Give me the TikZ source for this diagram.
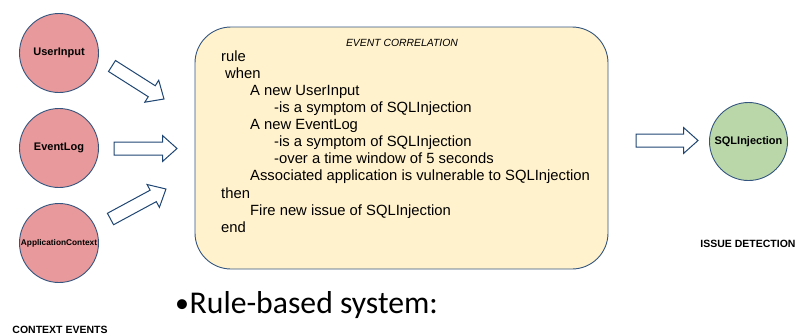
\documentclass[tikz,border=0pt]{standalone}
\usepackage{fontspec}
\setmainfont{Liberation Sans}
\newfontfamily\slidefont{Carlito}
\usetikzlibrary{calc}

\definecolor{evred}{HTML}{E8999B}
\definecolor{evgreen}{HTML}{B9D7A9}
\definecolor{corrfill}{HTML}{FFF2CC}
\definecolor{edgeblue}{HTML}{34557F}
\definecolor{arrowblue}{HTML}{1F4673}

\tikzset{
  eventnode/.style={circle, draw=edgeblue, line width=0.9pt, fill=evred,
    minimum size=79pt, inner sep=0pt, font=\bfseries\fontsize{11}{13}\selectfont},
  issuenode/.style={eventnode, fill=evgreen, minimum size=78pt},
  corrbox/.style={draw=edgeblue, line width=0.9pt, fill=corrfill,
    rounded corners=36pt, minimum width=413pt, minimum height=242pt, inner sep=0pt},
  ruletext/.style={align=left, inner sep=0pt, anchor=north west,
    font=\fontsize{14.8}{17.1}\selectfont},
  caption/.style={font=\bfseries\fontsize{10.5}{12}\selectfont, inner sep=0pt, anchor=base},
  blockarrow/.style={draw=arrowblue, line width=1pt, fill=white, line join=miter},
}

% Hollow block arrow from one named coordinate to another
\newcommand{\blockarrow}[2]{%
  \path let \p1=(#1), \p2=(#2) in \pgfextra{%
    \pgfmathsetmacro{\baang}{atan2(\y2-\y1,\x2-\x1)}%
    \pgfmathsetmacro{\balen}{veclen(\x2-\x1,\y2-\y1)}%
    \xdef\baang{\baang}\xdef\balen{\balen}};
  \begin{scope}[shift={(#1)}, rotate=\baang]
    \draw[blockarrow] (0,-6.5) -- (\balen-14.5,-6.5) -- (\balen-14.5,-13)
      -- (\balen,0) -- (\balen-14.5,13) -- (\balen-14.5,6.5) -- (0,6.5) -- cycle;
  \end{scope}}

\begin{document}
\begin{tikzpicture}[x=1pt, y=-1pt]
  \useasboundingbox (0,0) rectangle (800,335);

  % context events
  \node[eventnode] (user) at (59,53) {UserInput};
  \node[eventnode] (log) at (59,148) {EventLog};
  \node[eventnode, font=\bfseries\fontsize{8.3}{10}\selectfont] (app) at (59,243) {ApplicationContext};
  \node[caption] (ctx) at (60,333) {CONTEXT EVENTS};

  % correlation rule
  \node[corrbox] (corr) at (401.5,148) {};
  \node[font=\itshape\fontsize{10.4}{12}\selectfont, inner sep=0pt, anchor=base] (corrtitle)
    at (402,46.5) {EVENT CORRELATION};
  \node[ruletext] (rule) at (221,50.3) {%
    rule\\
    \hspace*{4pt}when\\
    \hspace*{29pt}A new UserInput\\
    \hspace*{53pt}-is a symptom of SQLInjection\\
    \hspace*{29pt}A new EventLog\\
    \hspace*{53pt}-is a symptom of SQLInjection\\
    \hspace*{53pt}-over a time window of 5 seconds\\
    \hspace*{29pt}Associated application is vulnerable to SQLInjection\\
    then\\
    \hspace*{29pt}Fire new issue of SQLInjection\\
    end};

  % detected issue
  \node[issuenode] (sqli) at (748.5,141.5) {SQLInjection};
  \node[caption] (issue) at (748,247) {ISSUE DETECTION};

  % arrow end points
  \coordinate (a1s) at (112,66);
  \coordinate (a1e) at (164,99);
  \coordinate (a2s) at (114,148.5);
  \coordinate (a2e) at (177,148.5);
  \coordinate (a3s) at (110.5,219);
  \coordinate (a3e) at (166,189);
  \coordinate (a4s) at (636,140.5);
  \coordinate (a4e) at (698,140.5);

  \blockarrow{a1s}{a1e}
  \blockarrow{a2s}{a2e}
  \blockarrow{a3s}{a3e}
  \blockarrow{a4s}{a4e}

  % slide bullet
  \node[font=\slidefont\fontsize{31.7}{38}\selectfont, inner sep=0pt, anchor=base west]
    (bullet) at (175,313) {{\fontsize{28}{32}\selectfont\raisebox{1pt}{•}}\kern0.5pt Rule-based system:};
\end{tikzpicture}
\end{document}
